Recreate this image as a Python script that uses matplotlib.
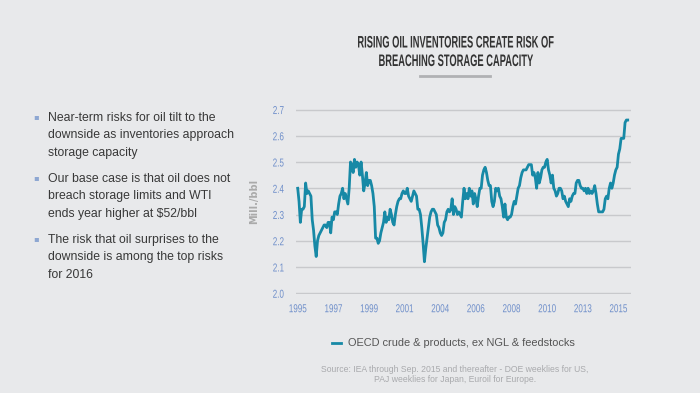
import numpy as np
import matplotlib
matplotlib.use("Agg")
import matplotlib.pyplot as plt
from matplotlib import patheffects
from matplotlib.transforms import Affine2D

# OECD commercial inventories (monthly, Jan 1995 onwards)
inv_1995_2005 = [
    2.40, 2.35, 2.27, 2.32, 2.32, 2.33, 2.42, 2.38, 2.39, 2.38,
    2.37, 2.28, 2.24, 2.18, 2.14, 2.20, 2.22, 2.23, 2.24, 2.25,
    2.26, 2.26, 2.25, 2.27, 2.27, 2.23, 2.29, 2.28, 2.31, 2.31,
    2.30, 2.34, 2.37, 2.38, 2.40, 2.36, 2.38, 2.36, 2.34, 2.40,
    2.50, 2.49, 2.46, 2.51, 2.48, 2.50, 2.49, 2.45, 2.50, 2.45,
    2.39, 2.42, 2.46, 2.41, 2.43, 2.43, 2.41, 2.38, 2.33, 2.21,
    2.21, 2.19, 2.20, 2.23, 2.25, 2.27, 2.31, 2.27, 2.29, 2.28,
    2.32, 2.30, 2.27, 2.26, 2.30, 2.33, 2.35, 2.36, 2.36, 2.38,
    2.39, 2.38, 2.38, 2.40, 2.37, 2.36, 2.35, 2.37, 2.39, 2.38,
    2.37, 2.32, 2.32, 2.30, 2.25, 2.19, 2.12, 2.17, 2.21, 2.25,
    2.29, 2.31, 2.32, 2.32, 2.31, 2.30, 2.26, 2.25, 2.23, 2.22,
    2.23, 2.27, 2.28, 2.31, 2.32, 2.31, 2.32, 2.36, 2.30, 2.33,
    2.32, 2.30,
]
inv_2005_2015 = [
    2.31, 2.30, 2.29, 2.35, 2.40, 2.36, 2.38, 2.36, 2.40, 2.37,
    2.39, 2.34, 2.38, 2.36, 2.33, 2.37, 2.40, 2.40, 2.45, 2.47,
    2.48, 2.46, 2.43, 2.41, 2.41, 2.35, 2.33, 2.35, 2.40, 2.39,
    2.40, 2.37, 2.36, 2.33, 2.29, 2.34, 2.29, 2.28, 2.29, 2.29,
    2.30, 2.33, 2.35, 2.34, 2.37, 2.40, 2.41, 2.44, 2.46, 2.47,
    2.47, 2.47, 2.48, 2.49, 2.49, 2.49, 2.45, 2.46, 2.44, 2.40,
    2.46, 2.42, 2.44, 2.47, 2.48, 2.48, 2.50, 2.51, 2.47, 2.45,
    2.42, 2.45, 2.40, 2.39, 2.37, 2.38, 2.40, 2.40, 2.39, 2.36,
    2.37, 2.35, 2.34, 2.33, 2.36, 2.35, 2.37, 2.38, 2.38, 2.42,
    2.43, 2.43, 2.41, 2.40, 2.40, 2.39, 2.40, 2.38, 2.40, 2.38,
    2.39, 2.38, 2.39, 2.41, 2.38, 2.34, 2.31, 2.31, 2.31, 2.31,
    2.32, 2.36, 2.37, 2.36, 2.40, 2.42, 2.40, 2.42, 2.45, 2.47,
    2.48, 2.53, 2.55, 2.59, 2.59, 2.59, 2.65, 2.66, 2.66,
]
inventories = np.array(inv_1995_2005 + inv_2005_2015)
months = np.arange(len(inventories))

tick_months = [0, 27, 54, 81, 108, 135, 162, 189, 216, 243]
tick_labels = ['1995', '1997', '1999', '2001', '2004',
               '2006', '2008', '2010', '2013', '2015']
y_ticks = [2.0, 2.1, 2.2, 2.3, 2.4, 2.5, 2.6, 2.7]

bullets = [
    "Near-term risks for oil tilt to the\ndownside as inventories approach\nstorage capacity",
    "Our base case is that oil does not\nbreach storage limits and WTI\nends year higher at $52/bbl",
    "The risk that oil surprises to the\ndownside is among the top risks\nfor 2016",
]


class Condense(patheffects.AbstractPathEffect):
    """squeeze text horizontally around its own centre (no narrow font installed)"""
    def __init__(self, sx):
        super().__init__()
        self.sx = sx

    def draw_path(self, renderer, gc, tpath, affine, rgbFace=None):
        ext = tpath.transformed(affine).get_extents()
        cx = 0.5 * (ext.x0 + ext.x1)
        aff = affine + Affine2D().translate(-cx, 0).scale(self.sx, 1).translate(cx, 0)
        renderer.draw_path(gc, tpath, aff, rgbFace)


bg = '#e8e9eb'
teal = '#1789a6'
tick_blue = '#6f8fca'
sans = ['Liberation Sans', 'DejaVu Sans']

fig = plt.figure(figsize=(7, 3.93), dpi=100, facecolor=bg)
ax = fig.add_axes([296/700, 1-293.5/393, 335/700, 184.5/393])
ax.set_facecolor(bg)

ax.plot(months, inventories, color=teal, lw=2, solid_joinstyle='round',
        label='OECD crude & products, ex NGL & feedstocks')

ax.set_xlim(-1.3, 252.5)
ax.set_ylim(1.999, 2.702)
ax.set_yticks(y_ticks)
ax.set_yticklabels(['%.1f' % v for v in y_ticks])
ax.set_xticks(tick_months)
ax.set_xticklabels(tick_labels)
ax.grid(axis='y', color='#c8c9cc', lw=1)
ax.set_axisbelow(True)
for s in ax.spines.values():
    s.set_visible(False)
ax.tick_params(length=0, labelcolor=tick_blue, labelsize=8.3)
ax.tick_params(axis='y', pad=7)
ax.tick_params(axis='x', pad=7)
for lab in ax.get_xticklabels() + ax.get_yticklabels():
    lab.set_family(sans)
    lab.set_path_effects([Condense(0.7)])
ax.set_ylabel('Mill./bbl', color='#aaaaaa', fontsize=7, fontweight='bold')
ax.yaxis.set_label_coords(-0.11, 0.5)

leg = ax.legend(loc='upper center', bbox_to_anchor=(0.47, -0.19), frameon=False,
                handlelength=0.8, handletextpad=0.7, fontsize=7.9)
for t in leg.get_texts():
    t.set_color('#555555')
    t.set_family(sans)

# title
title_fx = [Condense(0.56)]
fig.text(455/700, 1-43/393, 'RISING OIL INVENTORIES CREATE RISK OF', ha='center', va='center',
         fontsize=12, color='#333333', family=sans, fontweight='bold', path_effects=title_fx)
fig.text(455/700, 1-61.5/393, 'BREACHING STORAGE CAPACITY', ha='center', va='center',
         fontsize=12, color='#333333', family=sans, fontweight='bold', path_effects=title_fx)
fig.add_artist(plt.Line2D([420/700, 490/700], [1-76/393, 1-76/393], color='#b0b1b4', lw=2))

# bullet points on the left
y0 = [117, 178, 239]
for y, txt in zip(y0, bullets):
    fig.text(36/700, 1-y/393, '\u25aa', ha='center', va='center', fontsize=6, color='#8ea7d2')
    fig.text(48/700, 1-(y-5)/393, txt, ha='left', va='top', fontsize=8.8,
             color='#383838', family=sans, linespacing=1.6)

fig.text(455/700, 1-370/393, 'Source: IEA through Sep. 2015 and thereafter - DOE weeklies for US,',
         ha='center', va='center', fontsize=6.2, color='#a9aaad', family=sans)
fig.text(455/700, 1-380/393, 'PAJ weeklies for Japan, Euroil for Europe.',
         ha='center', va='center', fontsize=6.2, color='#a9aaad', family=sans)

plt.savefig('out.png', dpi=100, facecolor=bg)
